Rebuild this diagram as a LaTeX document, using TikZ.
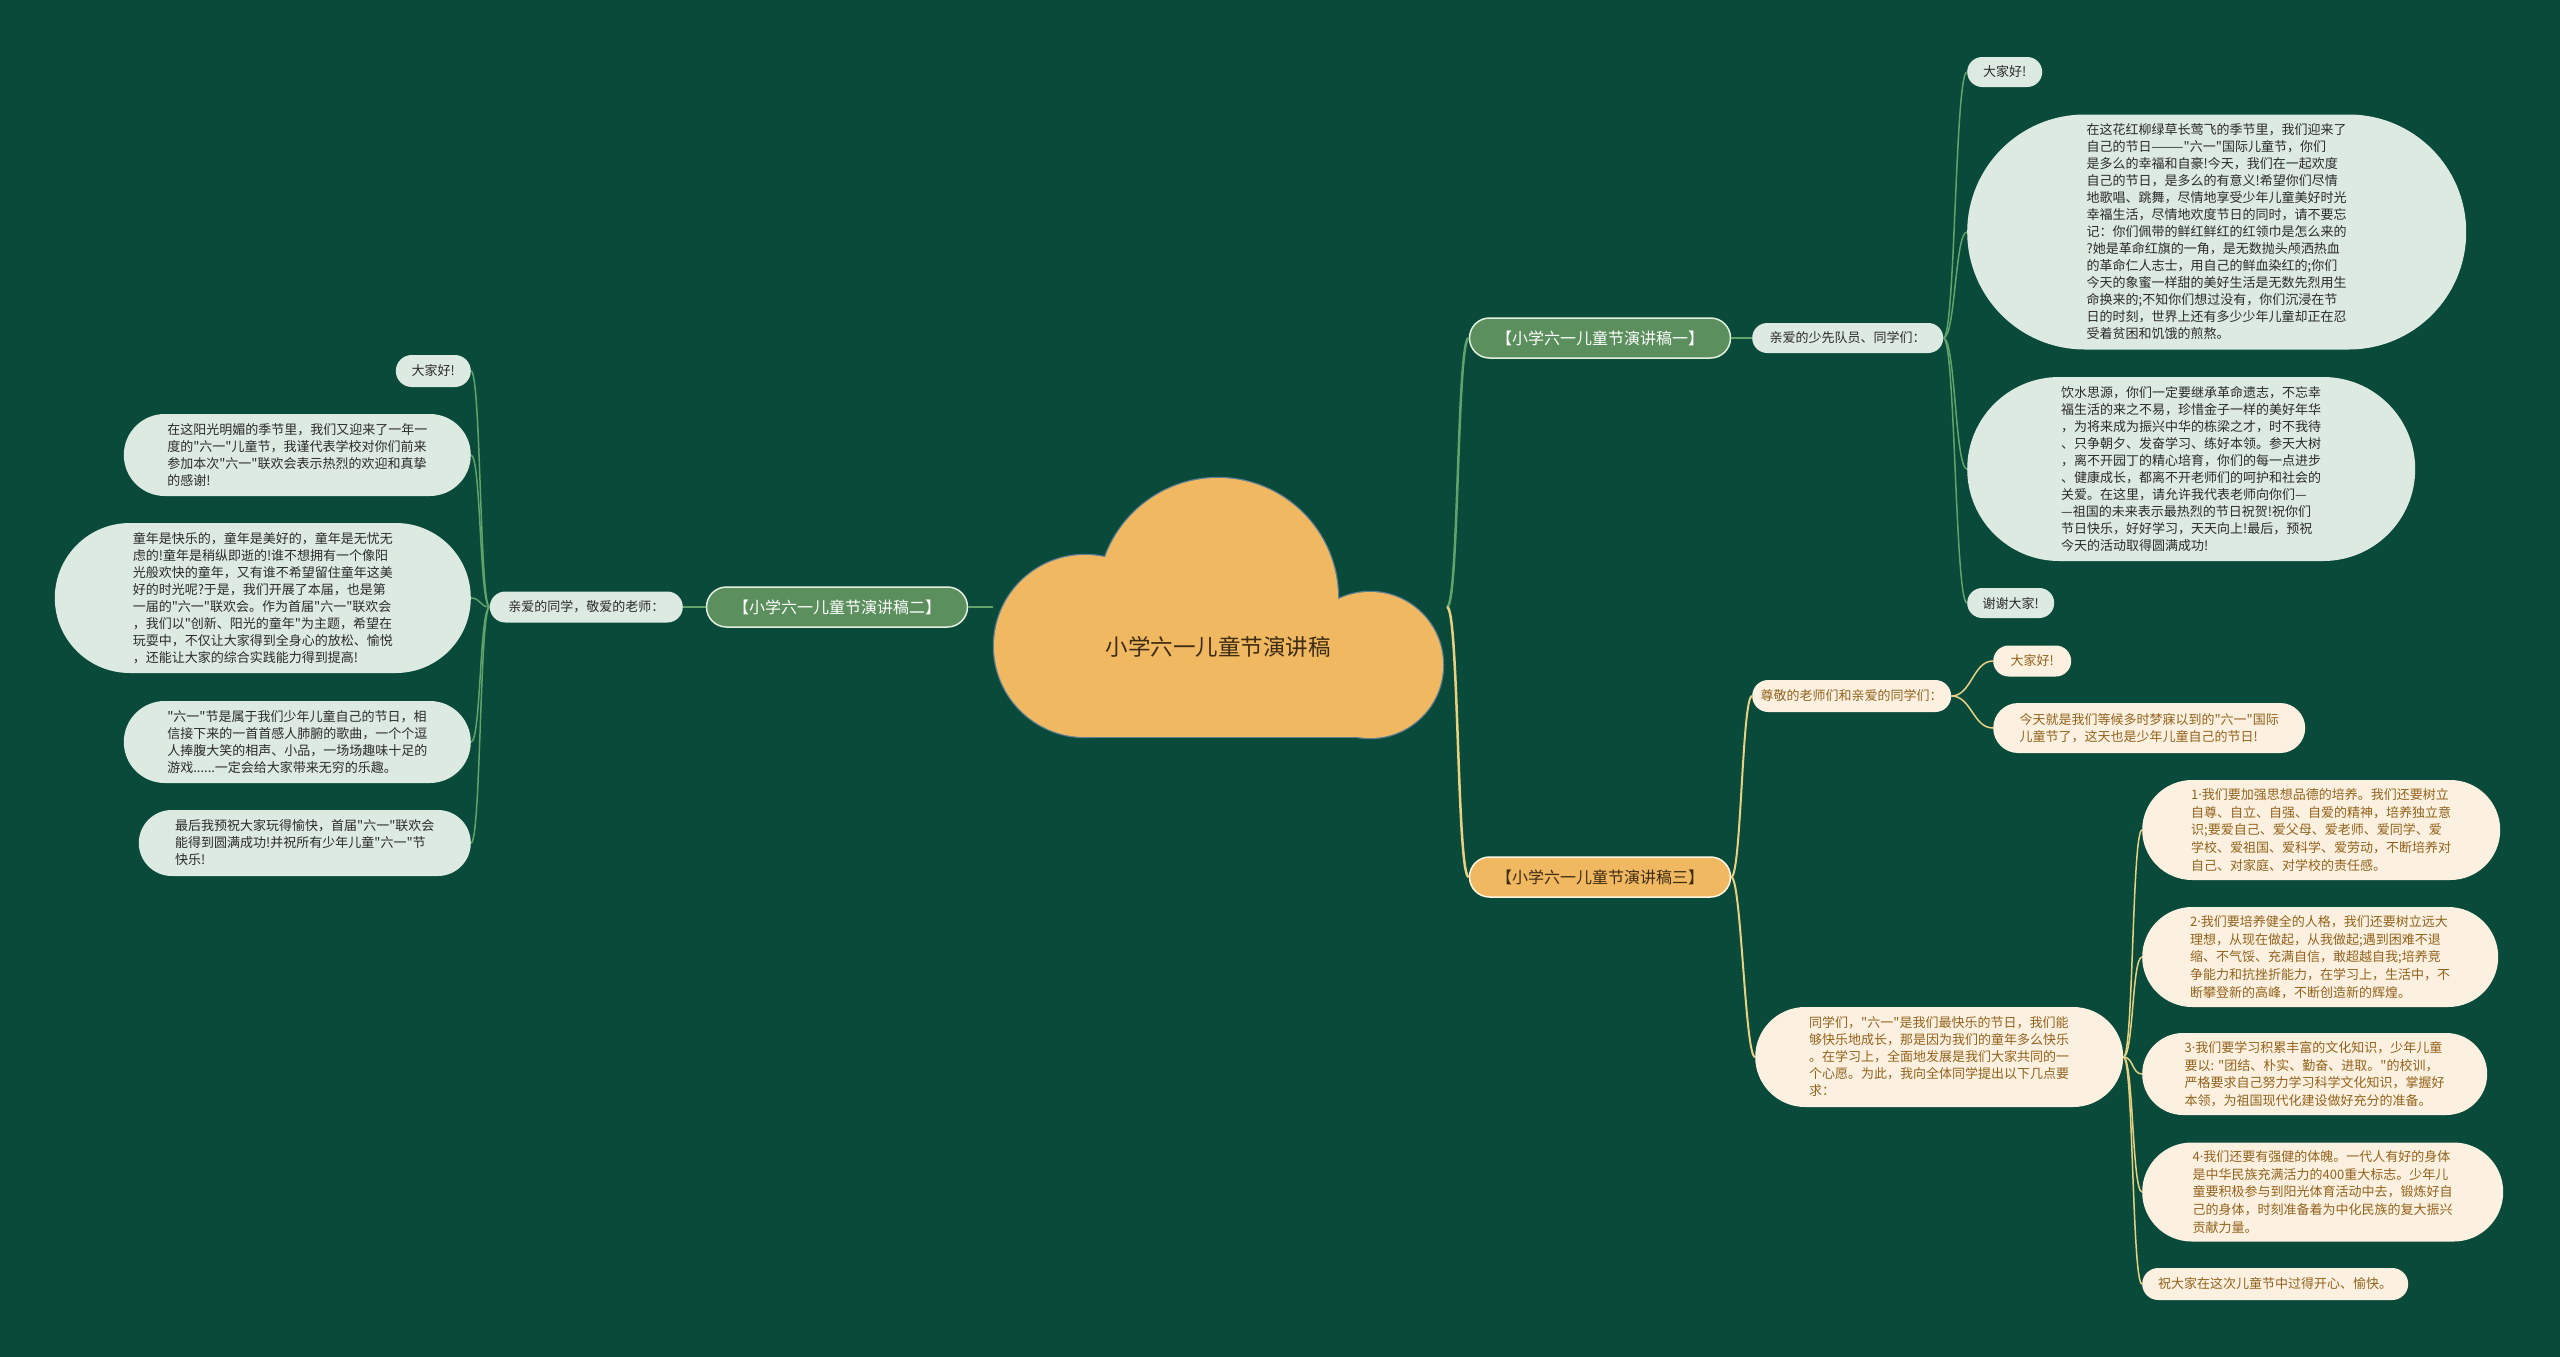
\documentclass[tikz,border=0pt]{standalone}
\usepackage{fontspec}
\setmainfont{Noto Sans CJK SC}[Ligatures=TeXOff]
\newfontfamily\latinfont{Noto Sans}

\definecolor{bgGreen}{HTML}{094A3B}
\definecolor{cloudFill}{HTML}{EFB861}
\definecolor{cloudEdge}{HTML}{5C7E95}
\definecolor{titleGreen}{HTML}{5B8F5D}
\definecolor{titleEdge}{HTML}{E3F0E0}
\definecolor{goldEdge}{HTML}{FFF6E3}
\definecolor{leafGreen}{HTML}{DDEAE2}
\definecolor{leafCream}{HTML}{FCF1E1}
\definecolor{inkBrown}{HTML}{93621C}
\definecolor{inkDark}{HTML}{2B2B2B}
\definecolor{inkRoot}{HTML}{3D2B12}
\definecolor{wireGreen}{HTML}{62A36A}
\definecolor{wireGold}{HTML}{E8D282}

\newcommand{\leaffont}{\fontsize{13}{17}\selectfont}
\newcommand{\pointfont}{\fontsize{13}{17.6}\selectfont}
\newcommand{\headfont}{\fontsize{16}{20}\selectfont}
\newcommand{\rootfont}{\fontsize{22.5}{27}\selectfont}
\newcommand{\dotmark}{{\latinfont ·}}

\tikzset{pill/.style 2 args={rectangle,minimum width=#1pt,minimum height=#2pt,rounded corners=#2*0.5pt,inner sep=0pt},
         greenhead/.style={pill={261}{40},fill=titleGreen,draw=titleEdge,line width=1.5pt,text=white,font=\headfont},
         goldhead/.style={pill={261}{40},fill=cloudFill,draw=goldEdge,line width=1.5pt,text=inkRoot,font=\headfont},
         mintleaf/.style={fill=leafGreen,text=inkDark,align=left},
         creamleaf/.style={fill=leafCream,text=inkBrown,align=left},
         gwire/.style={draw=wireGreen,line width=1.5pt},
         ywire/.style={draw=wireGold,line width=1.5pt}}

\begin{document}
\begin{tikzpicture}[x=1pt,y=-1pt]
                  \tikzstyle{every node}=[font=\leaffont]
                  \useasboundingbox (0,0) rectangle (2560,1357);
                  \fill[bgGreen] (0,0) rectangle (2560,1357);
                  % cloud: outline first, then fill over it
                  \draw[cloudEdge,line width=2.5pt] (1085,646) circle[radius=91];
                  \draw[cloudEdge,line width=2.5pt] (1218,598) circle[radius=120];
                  \draw[cloudEdge,line width=2.5pt] (1370,665) circle[radius=73];
                  \draw[cloudEdge,line width=2.5pt] (1085,640) rectangle (1370,737);
                  \fill[cloudFill] (1085,646) circle[radius=91];
                  \fill[cloudFill] (1218,598) circle[radius=120];
                  \fill[cloudFill] (1370,665) circle[radius=73];
                  \fill[cloudFill] (1085,640) rectangle (1370,737);
                  \node[text=inkRoot,font=\rootfont] (root) at (1218,647) {小学六一儿童节演讲稿};
                  \coordinate (hubE) at (1447,607);
                  \coordinate (hubW) at (993,607);

                  % branch one
                  \node[greenhead] (b1) at (1600,338) {【小学六一儿童节演讲稿一】};
                  \node[mintleaf,pill={191}{30},anchor=west] (g1) at (1752,338) {亲爱的少先队员、同学们：};
                  \node[mintleaf,pill={75}{30},anchor=west] (hi1) at (1967,72) {大家好!};
                  \node[mintleaf,pill={499}{235},anchor=west] (p1) at (1967,232) {在这花红柳绿草长莺飞的季节里，我们迎来了\\自己的节日———"六一"国际儿童节，你们\\是多么的幸福和自豪!今天，我们在一起欢度\\自己的节日，是多么的有意义!希望你们尽情\\地歌唱、跳舞，尽情地享受少年儿童美好时光\\幸福生活，尽情地欢度节日的同时，请不要忘\\记：你们佩带的鲜红鲜红的红领巾是怎么来的\\?她是革命红旗的一角，是无数抛头颅洒热血\\的革命仁人志士，用自己的鲜血染红的;你们\\今天的象蜜一样甜的美好生活是无数先烈用生\\命换来的;不知你们想过没有，你们沉浸在节\\日的时刻，世界上还有多少少年儿童却正在忍\\受着贫困和饥饿的煎熬。};
                  \node[mintleaf,pill={448}{184},anchor=west] (p2) at (1967,469) {饮水思源，你们一定要继承革命遗志，不忘幸\\福生活的来之不易，珍惜金子一样的美好年华\\，为将来成为振兴中华的栋梁之才，时不我待\\、只争朝夕、发奋学习、练好本领。参天大树\\，离不开园丁的精心培育，你们的每一点进步\\、健康成长，都离不开老师们的呵护和社会的\\关爱。在这里，请允许我代表老师向你们—\\—祖国的未来表示最热烈的节日祝贺!祝你们\\节日快乐，好好学习，天天向上!最后，预祝\\今天的活动取得圆满成功!};
                  \node[mintleaf,pill={87}{30},anchor=west] (thx) at (1967,603) {谢谢大家!};

                  % branch two
                  \node[greenhead] (b2) at (837,607) {【小学六一儿童节演讲稿二】};
                  \node[mintleaf,pill={193}{31},anchor=east] (g2) at (683,607) {亲爱的同学，敬爱的老师：};
                  \node[mintleaf,pill={75}{32},anchor=east] (hi2) at (471,371) {大家好!};
                  \node[mintleaf,pill={347}{82},anchor=east] (q1) at (471,455) {在这阳光明媚的季节里，我们又迎来了一年一\\度的"六一"儿童节，我谨代表学校对你们前来\\参加本次"六一"联欢会表示热烈的欢迎和真挚\\的感谢!};
                  \node[mintleaf,pill={416}{150},anchor=east] (q2) at (471,598) {童年是快乐的，童年是美好的，童年是无忧无\\虑的!童年是稍纵即逝的!谁不想拥有一个像阳\\光般欢快的童年，又有谁不希望留住童年这美\\好的时光呢?于是，我们开展了本届，也是第\\一届的"六一"联欢会。作为首届"六一"联欢会\\，我们以"创新、阳光的童年"为主题，希望在\\玩耍中，不仅让大家得到全身心的放松、愉悦\\，还能让大家的综合实践能力得到提高!};
                  \node[mintleaf,pill={347}{82},anchor=east] (q3) at (471,742) {"六一"节是属于我们少年儿童自己的节日，相\\信接下来的一首首感人肺腑的歌曲，一个个逗\\人捧腹大笑的相声、小品，一场场趣味十足的\\游戏......一定会给大家带来无穷的乐趣。};
                  \node[mintleaf,pill={332}{66},anchor=east] (q4) at (471,843) {最后我预祝大家玩得愉快，首届"六一"联欢会\\能得到圆满成功!并祝所有少年儿童"六一"节\\快乐!};

                  % branch three
                  \node[goldhead] (b3) at (1600,877) {【小学六一儿童节演讲稿三】};
                  \node[creamleaf,pill={199}{32},anchor=west] (o1) at (1752,696) {尊敬的老师们和亲爱的同学们：};
                  \node[creamleaf,pill={78}{31},anchor=west] (hi3) at (1993,661) {大家好!};
                  \node[creamleaf,pill={312}{50},anchor=west] (today) at (1993,728) {今天就是我们等候多时梦寐以到的"六一"国际\\儿童节了，这天也是少年儿童自己的节日!};
                  \node[creamleaf,pill={368}{100},anchor=west] (o2) at (1755,1057) {同学们，"六一"是我们最快乐的节日，我们能\\够快乐地成长，那是因为我们的童年多么快乐\\。在学习上，全面地发展是我们大家共同的一\\个心愿。为此，我向全体同学提出以下几点要\\求：};
                  \node[creamleaf,pill={358}{100},anchor=west,font=\pointfont] (r1) at (2142,830) {1\dotmark 我们要加强思想品德的培养。我们还要树立\\自尊、自立、自强、自爱的精神，培养独立意\\识;要爱自己、爱父母、爱老师、爱同学、爱\\学校、爱祖国、爱科学、爱劳动，不断培养对\\自己、对家庭、对学校的责任感。};
                  \node[creamleaf,pill={356}{100},anchor=west,font=\pointfont] (r2) at (2142,957) {2\dotmark 我们要培养健全的人格，我们还要树立远大\\理想，从现在做起，从我做起;遇到困难不退\\缩、不气馁、充满自信，敢超越自我;培养竞\\争能力和抗挫折能力，在学习上，生活中，不\\断攀登新的高峰，不断创造新的辉煌。};
                  \node[creamleaf,pill={345}{82},anchor=west,font=\pointfont] (r3) at (2142,1074) {3\dotmark 我们要学习积累丰富的文化知识，少年儿童\\要以: "团结、朴实、勤奋、进取。"的校训，\\严格要求自己努力学习科学文化知识，掌握好\\本领，为祖国现代化建设做好充分的准备。};
                  \node[creamleaf,pill={361}{99},anchor=west,font=\pointfont] (r4) at (2142,1192) {4\dotmark 我们还要有强健的体魄。一代人有好的身体\\是中华民族充满活力的400重大标志。少年儿\\童要积极参与到阳光体育活动中去，锻炼好自\\己的身体，时刻准备着为中化民族的复大振兴\\贡献力量。};
                  \node[creamleaf,pill={266}{32},anchor=west] (r5) at (2142,1284) {祝大家在这次儿童节中过得开心、愉快。};

                  % connectors
                  \draw[gwire,line width=2.5pt] (hubE) .. controls +(12,0) and +(-12,0) .. (b1.west);
                  \draw[ywire,line width=2.5pt] (hubE) .. controls +(12,0) and +(-12,0) .. (b3.west);
                  \draw[gwire,line width=2.5pt] (hubW) -- (b2.east);
                  \draw[gwire,line width=2pt] (b1.east) -- (g1.west);
                  \draw[gwire,line width=2pt] (b2.west) -- (g2.east);
                  \draw[ywire,line width=2pt] (b3.east) .. controls +(10,0) and +(-10,0) .. (o1.west);
                  \draw[ywire,line width=2pt] (b3.east) .. controls +(10,0) and +(-10,0) .. (o2.west);
                  \draw[gwire] (g1.east) .. controls +(12,0) and +(-12,0) .. (hi1.west);
                  \draw[gwire] (g1.east) .. controls +(12,0) and +(-12,0) .. (p1.west);
                  \draw[gwire] (g1.east) .. controls +(12,0) and +(-12,0) .. (p2.west);
                  \draw[gwire] (g1.east) .. controls +(12,0) and +(-12,0) .. (thx.west);
                  \draw[gwire] (g2.west) .. controls +(-10,0) and +(10,0) .. (hi2.east);
                  \draw[gwire] (g2.west) .. controls +(-10,0) and +(10,0) .. (q1.east);
                  \draw[gwire] (g2.west) .. controls +(-10,0) and +(10,0) .. (q2.east);
                  \draw[gwire] (g2.west) .. controls +(-10,0) and +(10,0) .. (q3.east);
                  \draw[gwire] (g2.west) .. controls +(-10,0) and +(10,0) .. (q4.east);
                  \draw[ywire] (o1.east) .. controls +(20,0) and +(-20,0) .. (hi3.west);
                  \draw[ywire] (o1.east) .. controls +(20,0) and +(-20,0) .. (today.west);
                  \draw[ywire] (o2.east) .. controls +(10,0) and +(-10,0) .. (r1.west);
                  \draw[ywire] (o2.east) .. controls +(10,0) and +(-10,0) .. (r2.west);
                  \draw[ywire] (o2.east) .. controls +(10,0) and +(-10,0) .. (r3.west);
                  \draw[ywire] (o2.east) .. controls +(10,0) and +(-10,0) .. (r4.west);
                  \draw[ywire] (o2.east) .. controls +(10,0) and +(-10,0) .. (r5.west);
              \end{tikzpicture}
\end{document}
